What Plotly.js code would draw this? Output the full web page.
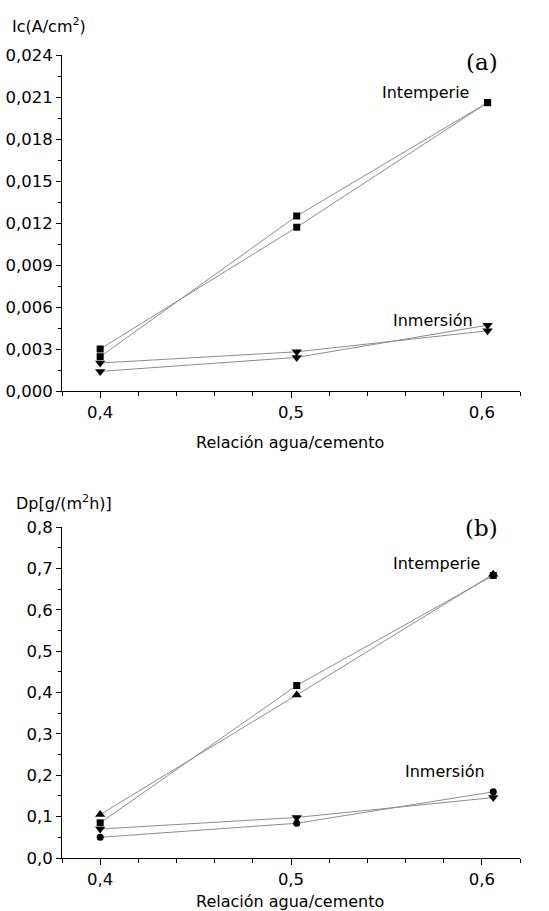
<!DOCTYPE html>
<html>
<head>
<meta charset="utf-8">
<script src="https://cdn.plot.ly/plotly-3.0.1.min.js"></script>
<style>html,body{margin:0;padding:0;background:#fff;}#chart{width:549px;height:911px;}</style>
</head>
<body>
<div id="chart"></div>
<script>
// ---- data ----
var xTop = [0.4, 0.503, 0.603];
var xBottom = [0.4, 0.503, 0.606];

// (a) Ic (A/cm2)
var icIntemperieA = [0.0030, 0.0117, 0.0206];
var icIntemperieB = [0.00245, 0.0125, 0.0206];
var icInmersionA = [0.0020, 0.0028, 0.0043];
var icInmersionB = [0.0014, 0.0024, 0.0047];

// (b) Dp g/(m2h)
var dpIntemperieSq = [0.085, 0.417, 0.683];
var dpIntemperieTri = [0.105, 0.394, 0.686];
var dpInmersionTri = [0.070, 0.098, 0.146];
var dpInmersionCirc = [0.050, 0.084, 0.160];

var xTickVals = [0.4, 0.5, 0.6];
var xTickText = ['0,4', '0,5', '0,6'];

// ---- styling ----
var W = 549, H = 911;
var lineStyle = {color: '#8c8c8c', width: 1};
function tr(x, y, sym, size, xa, ya) {
  return {x: x, y: y, type: 'scatter', mode: 'lines+markers', xaxis: xa, yaxis: ya,
    line: lineStyle, marker: {symbol: sym, size: size, color: '#000'}, showlegend: false, hoverinfo: 'skip'};
}
var data = [
  tr(xTop, icIntemperieA, 'square', 7, 'x', 'y'),
  tr(xTop, icIntemperieB, 'square', 7, 'x', 'y'),
  tr(xTop, icInmersionA, 'triangle-down', 9, 'x', 'y'),
  tr(xTop, icInmersionB, 'triangle-down', 9, 'x', 'y'),
  tr(xBottom, dpIntemperieSq, 'square', 7, 'x2', 'y2'),
  tr(xBottom, dpIntemperieTri, 'triangle-up', 9, 'x2', 'y2'),
  tr(xBottom, dpInmersionTri, 'triangle-down', 9, 'x2', 'y2'),
  tr(xBottom, dpInmersionCirc, 'circle', 7, 'x2', 'y2')
];

var tickFont = {family: 'DejaVu Sans', size: 16.5, color: '#000'};
function xAxis(anchor) {
  return {anchor: anchor, domain: [62 / W, 520 / W], range: [0.38, 0.62],
    showline: true, linecolor: '#000', linewidth: 1, mirror: false,
    showgrid: false, zeroline: false,
    tickmode: 'array', tickvals: xTickVals, ticktext: xTickText,
    ticks: 'outside', ticklen: 6, tickwidth: 1, tickcolor: '#000',
    minor: {dtick: 0.02, tick0: 0.38, ticks: 'outside', ticklen: 4, tickwidth: 1, tickcolor: '#000', showgrid: false},
    tickfont: tickFont, fixedrange: true};
}
function yAxis(anchor, dom, range, dtick, minorDtick, fmt) {
  return {anchor: anchor, domain: dom, range: range,
    showline: true, linecolor: '#000', linewidth: 1,
    showgrid: false, zeroline: false,
    tick0: 0, dtick: dtick, tickformat: fmt,
    ticks: 'outside', ticklen: 5, tickwidth: 1, tickcolor: '#000',
    minor: {dtick: minorDtick, ticks: 'outside', ticklen: 3, tickwidth: 1, tickcolor: '#000', showgrid: false},
    tickfont: tickFont, fixedrange: true};
}

function ann(text, xpx, ypx, size, family, xanchor) {
  return {text: text, xref: 'paper', yref: 'paper', x: xpx / W, y: 1 - ypx / H,
    xanchor: xanchor || 'left', yanchor: 'middle', showarrow: false,
    font: {family: family || 'DejaVu Sans', size: size, color: '#000'}};
}

var layout = {
  width: W, height: H,
  margin: {l: 0, r: 0, t: 0, b: 0},
  paper_bgcolor: '#fff', plot_bgcolor: '#fff',
  separators: ',.',
  showlegend: false,
  xaxis: xAxis('y'),
  yaxis: yAxis('x', [(H - 391) / H, (H - 55) / H], [0, 0.024], 0.003, 0.0015, '.3f'),
  xaxis2: xAxis('y2'),
  yaxis2: yAxis('x2', [(H - 858) / H, (H - 527) / H], [0, 0.8], 0.1, 0.05, '.1f'),
  annotations: [
    ann('Ic(A/cm<sup>2</sup>)', 10, 25, 16),
    ann('(a)', 500, 62, 23, 'DejaVu Serif', 'right'),
    ann('Intemperie', 380, 93, 16),
    ann('Inmersión', 391, 320, 16),
    ann('Relación agua/cemento', 290, 442, 16, 'DejaVu Sans', 'center'),
    ann('Dp[g/(m<sup>2</sup>h)]', 14, 502, 16),
    ann('(b)', 500, 528, 23, 'DejaVu Serif', 'right'),
    ann('Intemperie', 391, 563, 16),
    ann('Inmersión', 403, 771, 16),
    ann('Relación agua/cemento', 290, 901, 16, 'DejaVu Sans', 'center')
  ]
};

Plotly.newPlot('chart', data, layout, {staticPlot: true, displayModeBar: false});
</script>
</body>
</html>
